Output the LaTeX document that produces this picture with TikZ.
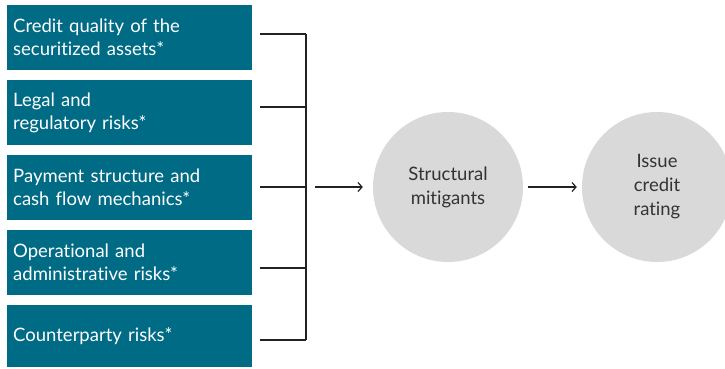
\documentclass[tikz,border=0pt]{standalone}
\usepackage{fontspec}
\setmainfont{Lato}[Ligatures=NoCommon]
\usetikzlibrary{arrows.meta}
\definecolor{boxteal}{HTML}{006B84}
\definecolor{circgray}{HTML}{D9D9D9}
\definecolor{linedark}{HTML}{222222}
\definecolor{txtdark}{HTML}{333333}
\begin{document}
\begin{tikzpicture}[x=1pt,y=-1pt,
  riskbox/.style={fill=boxteal, anchor=north west, minimum height=65pt, text width=233pt,
    inner xsep=6pt, inner ysep=0pt, align=left, text=white, font=\fontsize{18.5}{23}\selectfont},
  bigcirc/.style={circle, fill=circgray, minimum size=150pt, inner sep=0pt, align=center,
    text=txtdark, font=\fontsize{18.5}{24}\selectfont},
  conn/.style={draw=linedark, line width=1.2pt},
  arr/.style={conn, -{Straight Barb[length=4pt,width=9pt]}}]
\useasboundingbox (0,0) rectangle (725,368);
\node[riskbox] (b1) at (7,5) {Credit quality of the\\securitized assets*};
\node[riskbox] (b2) at (7,80) {Legal and\\regulatory risks*};
\node[riskbox] (b3) at (7,155) {Payment structure and\\cash flow mechanics*};
\node[riskbox] (b4) at (7,230) {Operational and\\administrative risks*};
\node[riskbox, minimum height=62pt] (b5) at (7,305) {Counterparty risks*};
\node[bigcirc] (c1) at (448,187) {Structural\\mitigants};
\node[bigcirc] (c2) at (657,187) {Issue\\credit\\rating};
\coordinate (s1) at (260,34);  \coordinate (t1) at (306,34);
\coordinate (s2) at (260,107); \coordinate (t2) at (306,107);
\coordinate (s3) at (260,187); \coordinate (t3) at (306,187);
\coordinate (s4) at (260,268); \coordinate (t4) at (306,268);
\coordinate (s5) at (260,340); \coordinate (t5) at (306,340);
\coordinate (a1) at (315,187);
\draw[conn] (s1) -- (t1);
\draw[conn] (s2) -- (t2);
\draw[conn] (s3) -- (t3);
\draw[conn] (s4) -- (t4);
\draw[conn] (s5) -- (t5);
\draw[conn] (t1) -- (t5);
\draw[arr] (a1) -- ([xshift=-10pt]c1.west);
\draw[arr] ([xshift=5pt]c1.east) -- ([xshift=-5pt]c2.west);
\end{tikzpicture}
\end{document}
